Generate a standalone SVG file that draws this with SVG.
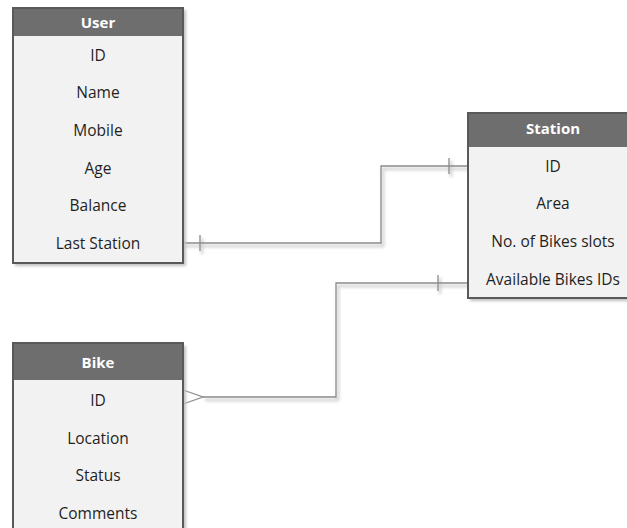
<svg xmlns="http://www.w3.org/2000/svg" width="627" height="528" viewBox="0 0 627 528">
<defs>
<filter id="sh" x="-20%" y="-20%" width="140%" height="140%">
<feGaussianBlur stdDeviation="1.5"/>
</filter>
<style>
.box{fill:#f2f2f2;stroke:#595959;stroke-width:2}
.hdr{fill:#6e6e6e}
.bs{fill:#bfbfbf;filter:url(#sh)}
.t{font-family:"Open Sans","Liberation Sans",sans-serif;font-size:15.5px;fill:#1f1f1f;text-anchor:middle}
.h{font-family:"Open Sans","Liberation Sans",sans-serif;font-size:15px;font-weight:bold;fill:#ffffff;text-anchor:middle}
.ln{fill:none;stroke:#8c8c8c;stroke-width:1.3}
.ls{fill:none;stroke:#cfcfcf;stroke-width:2.5;filter:url(#sh)}
</style>
</defs>
<g id="connectors">
<g transform="translate(2,3)">
<path class="ls" d="M183,243 H381 V166 H468"/>
<path class="ls" d="M203,397 H336 V283 H468"/>
<path class="ls" d="M200,235 V251 M449,158 V174 M438,275 V291"/>
</g>
<path class="ln" d="M183,243 H381 V166 H468"/>
<path class="ln" d="M200,235 V251 M449,158 V174"/>
<path class="ln" d="M203,397 H336 V283 H468"/>
<path class="ln" d="M438,275 V291"/>
<path class="ln" d="M183,390 L203,397 L183,404"/>
</g>
<g id="user">
<rect class="bs" x="15" y="10" width="171" height="256"/>
<rect class="box" x="13" y="8" width="170" height="255"/>
<rect class="hdr" x="14" y="9" width="168" height="27"/>
<text class="h" x="98" y="27.5">User</text>
<text class="t" x="98" y="61">ID</text>
<text class="t" x="98" y="98">Name</text>
<text class="t" x="98" y="136">Mobile</text>
<text class="t" x="98" y="174">Age</text>
<text class="t" x="98" y="211">Balance</text>
<text class="t" x="98" y="249">Last Station</text>
</g>
<g id="station">
<rect class="bs" x="470" y="116" width="171" height="185"/>
<rect class="box" x="468" y="113" width="170" height="185"/>
<rect class="hdr" x="469" y="114" width="168" height="33"/>
<text class="h" x="553" y="133.5">Station</text>
<text class="t" x="553" y="172">ID</text>
<text class="t" x="553" y="209">Area</text>
<text class="t" x="553" y="247">No. of Bikes slots</text>
<text class="t" x="553" y="285">Available Bikes IDs</text>
</g>
<g id="bike">
<rect class="bs" x="15" y="346" width="171" height="200"/>
<rect class="box" x="13" y="343" width="170" height="200"/>
<rect class="hdr" x="14" y="344" width="168" height="36"/>
<text class="h" x="98" y="367.5">Bike</text>
<text class="t" x="98" y="406">ID</text>
<text class="t" x="98" y="444">Location</text>
<text class="t" x="98" y="481">Status</text>
<text class="t" x="98" y="519">Comments</text>
</g>
</svg>
